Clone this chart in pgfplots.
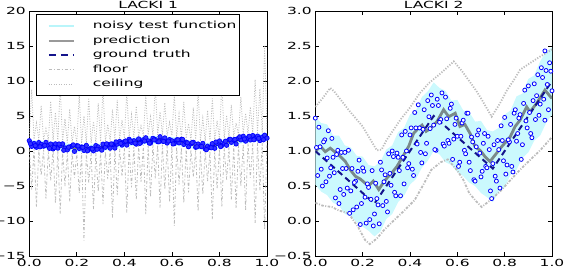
\documentclass[border=0pt]{standalone}
\usepackage{fontspec}
\setmainfont{DejaVu Sans}[FakeStretch=1.58]
\usepackage{pgfplots}
\pgfplotsset{compat=1.18}
\usepackage{pgfplotstable}
\definecolor{cyanband}{RGB}{203,249,253}
\definecolor{cyanline}{RGB}{185,245,250}
\definecolor{predgray}{RGB}{122,138,138}
\definecolor{truthblue}{RGB}{20,20,140}
\definecolor{fcgray}{RGB}{188,188,188}

\pgfplotstableread{
x c f
0.00 1.7 0.3
0.01 8.8 -5.5
0.02 1.7 0.3
0.03 4.0 -8.0
0.04 1.6 0.2
0.05 6.5 -3.5
0.06 1.6 0.2
0.07 3.2 -6.8
0.08 1.5 0.1
0.09 7.1 -4.2
0.10 1.5 0.1
0.11 5.5 -7.5
0.12 1.4 0.0
0.13 9.2 -9.0
0.14 1.3 -0.1
0.15 4.6 -5.0
0.16 1.2 -0.2
0.17 6.0 -7.2
0.18 1.2 -0.2
0.19 3.5 -3.8
0.20 1.1 -0.3
0.21 8.1 -6.0
0.22 1.1 -0.3
0.23 5.0 -12.8
0.24 1.1 -0.3
0.25 7.6 -4.5
0.26 1.1 -0.3
0.27 4.2 -8.3
0.28 1.1 -0.3
0.29 6.8 -5.8
0.30 1.2 -0.2
0.31 9.0 -7.6
0.32 1.3 -0.1
0.33 3.8 -4.0
0.34 1.4 0.0
0.35 5.9 -9.5
0.36 1.6 0.2
0.37 7.3 -6.3
0.38 1.7 0.3
0.39 4.4 -3.6
0.40 1.8 0.4
0.41 8.5 -8.8
0.42 1.9 0.5
0.43 5.2 -5.2
0.44 2.0 0.6
0.45 6.4 -7.0
0.46 2.1 0.7
0.47 3.6 -4.4
0.48 2.2 0.8
0.49 7.9 -9.0
0.50 2.3 0.9
0.51 4.9 -6.6
0.52 2.3 0.9
0.53 9.4 -3.9
0.54 2.3 0.9
0.55 5.6 -8.1
0.56 2.3 0.9
0.57 6.9 -5.5
0.58 2.2 0.8
0.59 4.1 -7.3
0.60 2.2 0.8
0.61 8.0 -10.7
0.62 2.0 0.6
0.63 5.3 -4.8
0.64 1.9 0.5
0.65 7.0 -7.4
0.66 1.8 0.4
0.67 3.9 -5.9
0.68 1.6 0.2
0.69 6.2 -3.7
0.70 1.5 0.1
0.71 8.7 -8.6
0.72 1.4 0.0
0.73 4.7 -6.2
0.74 1.4 0.0
0.75 5.8 -4.3
0.76 1.4 0.0
0.77 7.5 -9.8
0.78 1.5 0.1
0.79 4.3 -5.4
0.80 1.7 0.3
0.81 9.8 -7.9
0.82 1.8 0.4
0.83 5.1 -4.1
0.84 2.0 0.6
0.85 6.6 -6.9
0.86 2.1 0.7
0.87 4.0 -8.2
0.88 2.3 0.9
0.89 7.7 -5.0
0.90 2.4 1.0
0.91 5.4 -8.4
0.92 2.5 1.1
0.93 6.3 -3.8
0.94 2.5 1.1
0.95 10.2 -10.3
0.96 2.6 1.2
0.97 8.9 -5.6
0.98 2.6 1.2
0.99 15.0 -11.2
1.00 2.7 1.3
}\leftfc

\pgfplotsset{
  lackiaxis/.style={
    scale only axis, height=245pt, xmin=0, xmax=1,
    xtick={0,0.2,0.4,0.6,0.8,1}, xticklabels={0.0,0.2,0.4,0.6,0.8,1.0},
    tick align=inside, xtick pos=both, ytick pos=both,
    major tick length=4pt,
    every tick/.style={black, line width=0.7pt},
    axis line style={black, line width=1pt},
    tick label style={font=\fontsize{9.8}{11}\selectfont},
    every axis title shift=0pt,
    title style={font=\fontsize{9.8}{11}\selectfont, at={(0.5,1)}, anchor=south, inner sep=0pt, yshift=2pt},
  },
  pmark/.style={only marks, mark=*, mark size=2.2pt, mark options={draw=blue, fill=blue!80, line width=0.7pt}},
  qmark/.style={only marks, mark=*, mark size=2.0pt, mark options={draw=blue, fill=white, line width=0.8pt}},
}

\begin{document}
\begin{tikzpicture}
% ---------------- LACKI 1 ----------------
\begin{axis}[lackiaxis, at={(29.3pt,10pt)}, anchor=south west, width=237.7pt,
  title={LACKI 1}, ymin=-15, ymax=20,
  ytick={-15,-10,-5,0,5,10,15,20}, yticklabels={−15,−10,−5,0,5,10,15,20},
  legend style={at={(0.03,0.986)}, anchor=north west, draw=black, line width=0.8pt, fill=white,
    font=\fontsize{9.8}{11}\selectfont, inner xsep=2pt, inner ysep=5.5pt, row sep=2.8pt,
    nodes={inner sep=1pt, text height=7.3pt, text depth=2.4pt},
    /tikz/every odd column/.append style={column sep=17pt}},
  legend cell align=left,
  legend image code/.code={\path (-9pt,0pt); \draw[#1] (0pt,0pt) -- (25pt,0pt);},
]
\addlegendimage{cyanline, line width=1.6pt}
\addlegendimage{gray!80, line width=2pt}
\addlegendimage{truthblue, line width=1.8pt, dash pattern=on 7pt off 5pt}
\addlegendimage{fcgray, line width=0.8pt, dash pattern=on 3pt off 2pt on 1pt off 2pt}
\addlegendimage{fcgray, line width=0.8pt, dash pattern=on 1pt off 1.5pt}
\legend{noisy test function, prediction, ground truth, floor, ceiling}

\addplot[fcgray, line width=0.8pt, dash pattern=on 3pt off 2pt on 1pt off 2pt, forget plot] table[x=x, y=f] {\leftfc};
\addplot[fcgray, line width=0.8pt, dash pattern=on 1pt off 1.5pt, forget plot] table[x=x, y=c] {\leftfc};
\addplot[fill=cyanband, draw=none, forget plot] coordinates {
(0,1.55) (0.05,1.45) (0.1,1.30) (0.15,1.10) (0.2,0.95) (0.25,0.90) (0.3,1.05) (0.35,1.35) (0.4,1.65) (0.45,1.95) (0.5,2.13) (0.55,2.17) (0.6,2.00) (0.65,1.70) (0.7,1.35) (0.75,1.17) (0.8,1.50) (0.85,1.90) (0.9,2.23) (0.95,2.40) (1,2.53)
(1,1.43) (0.95,1.30) (0.9,1.13) (0.85,0.80) (0.8,0.40) (0.75,0.07) (0.7,0.25) (0.65,0.60) (0.6,0.90) (0.55,1.07) (0.5,1.03) (0.45,0.85) (0.4,0.55) (0.35,0.25) (0.3,-0.05) (0.25,-0.20) (0.2,-0.15) (0.15,0.00) (0.1,0.20) (0.05,0.35) (0,0.45)
} -- cycle;
\addplot[predgray, line width=2.2pt, forget plot] coordinates {
(0,1.0) (0.05,0.95) (0.1,0.7) (0.15,0.6) (0.2,0.35) (0.25,0.45) (0.3,0.5) (0.35,0.9) (0.4,1.1) (0.45,1.45) (0.5,1.55) (0.55,1.7) (0.6,1.4) (0.65,1.2) (0.7,0.8) (0.75,0.65) (0.8,0.9) (0.85,1.4) (0.9,1.65) (0.95,1.9) (1,1.95)};
\addplot[truthblue, line width=1.8pt, dash pattern=on 7pt off 5pt, forget plot] coordinates {
(0,1.0) (0.05,0.9) (0.1,0.75) (0.15,0.55) (0.2,0.4) (0.25,0.35) (0.3,0.5) (0.35,0.8) (0.4,1.1) (0.45,1.4) (0.5,1.58) (0.55,1.62) (0.6,1.45) (0.65,1.15) (0.7,0.8) (0.75,0.62) (0.8,0.95) (0.85,1.35) (0.9,1.68) (0.95,1.85) (1,1.98)};
\addplot[pmark, forget plot] coordinates {
(0.00,1.47) (0.01,0.66) (0.02,1.08) (0.03,0.53) (0.04,1.20) (0.05,0.95) (0.06,0.69) (0.07,1.23) (0.08,0.74) (0.09,1.00)
(0.10,0.30) (0.11,1.02) (0.12,0.41) (0.13,0.77) (0.14,1.02) (0.15,0.43) (0.16,0.16) (0.17,0.57) (0.18,0.71) (0.19,-0.05)
(0.20,0.76) (0.21,0.36) (0.22,0.57) (0.23,0.08) (0.24,0.80) (0.25,0.20) (0.26,0.40) (0.27,0.02) (0.28,0.77) (0.29,0.58)
(0.30,0.28) (0.31,0.97) (0.32,0.53) (0.33,0.95) (0.34,0.40) (0.35,0.96) (0.36,0.42) (0.37,0.98) (0.38,1.36) (0.39,0.85)
(0.40,1.33) (0.41,0.85) (0.42,1.67) (0.43,1.23) (0.44,1.47) (0.45,0.98) (0.46,1.73) (0.47,1.23) (0.48,1.60) (0.49,1.89)
(0.50,1.45) (0.51,1.13) (0.52,1.81) (0.53,1.64) (0.54,1.33) (0.55,2.04) (0.56,1.42) (0.57,1.87) (0.58,1.14) (0.59,1.63)
(0.60,1.46) (0.61,1.06) (0.62,1.59) (0.63,1.17) (0.64,1.67) (0.65,0.94) (0.66,1.26) (0.67,0.61) (0.68,1.04) (0.69,1.24)
(0.70,0.53) (0.71,1.00) (0.72,0.67) (0.73,1.09) (0.74,0.31) (0.75,0.69) (0.76,0.53) (0.77,1.05) (0.78,0.39) (0.79,1.08)
(0.80,1.43) (0.81,0.78) (0.82,1.14) (0.83,0.82) (0.84,1.61) (0.85,1.24) (0.86,1.59) (0.87,1.01) (0.88,1.83) (0.89,1.59)
(0.90,2.11) (0.91,1.41) (0.92,1.87) (0.93,1.58) (0.94,2.21) (0.95,1.77) (0.96,2.13) (0.97,1.49) (0.98,1.98) (0.99,2.26) (1.00,1.84)
(0.005,1.05) (0.025,0.76) (0.045,0.60) (0.065,0.81) (0.085,0.38) (0.105,0.49) (0.125,1.00) (0.145,0.11) (0.165,0.55) (0.185,0.87)
(0.205,0.72) (0.225,0.53) (0.245,0.03) (0.265,0.30) (0.285,0.25) (0.305,0.13) (0.325,1.02) (0.345,1.01) (0.365,1.29) (0.385,1.08)
(0.405,1.43) (0.425,1.45) (0.445,1.12) (0.465,1.09) (0.485,1.42) (0.505,1.12) (0.525,1.58) (0.545,1.32) (0.565,1.37) (0.585,1.42)
(0.605,1.01) (0.625,1.61) (0.645,1.65) (0.665,1.17) (0.685,1.19) (0.705,0.60) (0.725,0.64) (0.745,0.19) (0.765,0.46) (0.785,1.28)
(0.805,0.63) (0.825,1.40) (0.845,1.67) (0.865,1.64) (0.885,2.02) (0.905,1.72) (0.925,2.10) (0.945,1.61) (0.965,1.80) (0.985,1.60)
};
\end{axis}

% ---------------- LACKI 2 ----------------
\begin{axis}[lackiaxis, at={(315.3pt,10pt)}, anchor=south west, width=236.7pt,
  title={LACKI 2}, ymin=-0.5, ymax=3,
  ytick={-0.5,0,0.5,1,1.5,2,2.5,3}, yticklabels={−0.5,0.0,0.5,1.0,1.5,2.0,2.5,3.0},
]
\addplot[fill=cyanband, draw=none] coordinates {
(0,1.48) (0.025,1.40) (0.05,1.38) (0.075,1.22) (0.1,1.22) (0.125,1.08) (0.15,1.05) (0.175,0.93) (0.2,0.92) (0.225,0.80) (0.25,0.78) (0.275,0.85) (0.3,1.02) (0.325,1.08) (0.35,1.27) (0.375,1.33) (0.4,1.52) (0.425,1.58) (0.45,1.77) (0.475,1.85) (0.5,1.98) (0.525,1.90) (0.55,1.86) (0.575,1.72) (0.6,1.73) (0.625,1.58) (0.65,1.56) (0.675,1.42) (0.7,1.43) (0.725,1.30) (0.75,1.28) (0.775,1.33) (0.8,1.52) (0.825,1.58) (0.85,1.78) (0.875,1.82) (0.9,2.03) (0.925,2.08) (0.95,2.28) (0.975,2.42) (1,2.48)
(1,1.52) (0.975,1.40) (0.95,1.22) (0.925,1.15) (0.9,0.98) (0.875,0.90) (0.85,0.73) (0.825,0.66) (0.8,0.48) (0.775,0.42) (0.75,0.27) (0.725,0.34) (0.7,0.40) (0.675,0.50) (0.65,0.55) (0.625,0.64) (0.6,0.70) (0.575,0.80) (0.55,0.84) (0.525,0.95) (0.5,1.00) (0.475,0.86) (0.45,0.76) (0.425,0.60) (0.4,0.52) (0.375,0.36) (0.35,0.27) (0.325,0.10) (0.3,0.03) (0.275,-0.15) (0.25,-0.22) (0.225,-0.14) (0.2,-0.08) (0.175,-0.02) (0.15,0.07) (0.125,0.10) (0.1,0.22) (0.075,0.26) (0.05,0.37) (0.025,0.42) (0,0.52)
} -- cycle;
\addplot[fcgray, line width=1.8pt, dash pattern=on 2.5pt off 1.5pt on 1pt off 1.5pt] coordinates {
(0,0.26) (0.03,0.22) (0.07,0.2) (0.1,0.15) (0.14,0.11) (0.18,-0.08) (0.21,-0.27) (0.23,-0.33) (0.26,-0.25) (0.29,-0.13) (0.32,-0.03) (0.37,0.13) (0.42,0.3) (0.45,0.48) (0.49,0.73) (0.53,0.84) (0.56,0.88) (0.6,0.72) (0.625,0.59) (0.65,0.4) (0.68,0.28) (0.703,0.2) (0.74,0.3) (0.78,0.42) (0.837,0.63) (0.87,0.75) (0.907,0.87) (0.95,1.01) (1.0,1.2)};
\addplot[fcgray, line width=1.8pt, dash pattern=on 1.2pt off 1.5pt] coordinates {
(0,1.63) (0.03,1.75) (0.063,1.9) (0.08,1.85) (0.11,1.72) (0.14,1.59) (0.17,1.47) (0.2,1.35) (0.23,1.18) (0.26,1.01) (0.28,1.02) (0.3,1.15) (0.33,1.3) (0.36,1.45) (0.4,1.62) (0.44,1.82) (0.48,1.97) (0.53,2.11) (0.585,2.28) (0.62,2.14) (0.648,2.01) (0.68,1.86) (0.704,1.73) (0.745,1.49) (0.78,1.68) (0.81,1.87) (0.84,2.02) (0.865,2.16) (0.9,2.24) (0.95,2.35) (1.0,2.45)};
\addplot[qmark] coordinates {
(0.00,1.47) (0.01,0.65) (0.02,1.06) (0.03,0.50) (0.04,1.16) (0.05,0.90) (0.06,0.64) (0.07,1.18) (0.08,0.69) (0.09,0.95)
(0.10,0.25) (0.11,0.98) (0.12,0.38) (0.13,0.75) (0.14,1.01) (0.15,0.43) (0.16,0.16) (0.17,0.57) (0.18,0.71) (0.19,-0.05)
(0.20,0.76) (0.21,0.34) (0.22,0.53) (0.23,0.02) (0.24,0.72) (0.25,0.10) (0.26,0.32) (0.27,-0.04) (0.28,0.73) (0.29,0.56)
(0.30,0.28) (0.31,0.96) (0.32,0.51) (0.33,0.92) (0.34,0.36) (0.35,0.91) (0.36,0.36) (0.37,0.91) (0.38,1.28) (0.39,0.76)
(0.40,1.23) (0.41,0.74) (0.42,1.55) (0.43,1.10) (0.44,1.33) (0.45,0.83) (0.46,1.59) (0.47,1.11) (0.48,1.49) (0.49,1.80)
(0.50,1.37) (0.51,1.01) (0.52,1.65) (0.53,1.45) (0.54,1.10) (0.55,1.77) (0.56,1.15) (0.57,1.61) (0.58,0.88) (0.59,1.38)
(0.60,1.21) (0.61,0.84) (0.62,1.40) (0.63,1.01) (0.64,1.54) (0.65,0.84) (0.66,1.20) (0.67,0.59) (0.68,1.06) (0.69,1.30)
(0.70,0.63) (0.71,1.11) (0.72,0.78) (0.73,1.21) (0.74,0.43) (0.75,0.82) (0.76,0.64) (0.77,1.15) (0.78,0.47) (0.79,1.15)
(0.80,1.48) (0.81,0.80) (0.82,1.13) (0.83,0.78) (0.84,1.54) (0.85,1.14) (0.86,1.47) (0.87,0.88) (0.88,1.68) (0.89,1.43)
(0.90,1.93) (0.91,1.25) (0.92,1.72) (0.93,1.45) (0.94,2.09) (0.95,1.67) (0.96,2.05) (0.97,1.44) (0.98,1.95) (0.99,2.26) (1.00,1.86)
(0.005,1.05) (0.015,1.34) (0.025,0.74) (0.035,1.13) (0.045,0.56) (0.055,1.29) (0.065,0.76) (0.075,0.91) (0.085,0.33) (0.095,1.01)
(0.105,0.45) (0.115,0.75) (0.125,0.98) (0.135,0.47) (0.145,0.11) (0.155,0.75) (0.165,0.55) (0.175,0.20) (0.185,0.87) (0.195,0.25)
(0.205,0.71) (0.215,-0.03) (0.225,0.48) (0.235,0.31) (0.245,-0.07) (0.255,0.54) (0.265,0.23) (0.275,0.84) (0.285,0.22) (0.295,0.66)
(0.305,0.13) (0.315,0.68) (0.325,1.00) (0.335,0.41) (0.345,0.97) (0.355,0.72) (0.365,1.23) (0.375,0.53) (0.385,1.00) (0.395,0.82)
(0.405,1.33) (0.415,0.65) (0.425,1.33) (0.435,1.66) (0.445,0.98) (0.455,1.31) (0.465,0.96) (0.475,1.72) (0.485,1.32) (0.495,1.65)
(0.505,1.02) (0.515,1.74) (0.525,1.41) (0.535,1.83) (0.545,1.07) (0.555,1.46) (0.565,1.11) (0.575,1.67) (0.585,1.17) (0.595,1.47)
(0.605,0.78) (0.615,1.21) (0.625,1.44) (0.635,0.96) (0.645,1.54) (0.655,0.72) (0.665,1.13) (0.675,0.57) (0.685,1.23) (0.695,0.97)
(0.705,0.71) (0.715,1.25) (0.725,0.76) (0.735,1.02) (0.745,0.32) (0.755,1.09) (0.765,0.57) (0.775,1.02) (0.785,1.36) (0.795,0.86)
(0.805,0.67) (0.815,1.16) (0.825,1.38) (0.835,0.70) (0.845,1.59) (0.855,1.25) (0.865,1.52) (0.875,1.09) (0.885,1.87) (0.895,1.33)
(0.905,1.55) (0.915,1.19) (0.925,1.96) (0.935,1.79) (0.945,1.51) (0.955,2.19) (0.965,1.74) (0.975,2.15) (0.985,1.59) (0.995,2.14)
(0.97,2.43)
};
\addplot[predgray, line width=2.8pt] coordinates {
(0.000,0.99) (0.021,1.07) (0.042,0.99) (0.063,1.04) (0.085,0.98) (0.106,0.92) (0.127,0.85) (0.148,0.73) (0.169,0.64) (0.19,0.60)
(0.211,0.54) (0.225,0.50) (0.245,0.57) (0.268,0.45) (0.282,0.52) (0.304,0.62) (0.324,0.69) (0.345,0.78) (0.366,0.90) (0.395,1.07)
(0.415,1.25) (0.434,1.32) (0.451,1.37) (0.468,1.28) (0.486,1.32) (0.514,1.42) (0.542,1.59) (0.564,1.49) (0.591,1.54) (0.611,1.35)
(0.632,1.38) (0.654,1.25) (0.675,1.06) (0.696,1.01) (0.717,0.92) (0.738,0.85) (0.759,0.94) (0.787,1.06) (0.823,1.20) (0.844,1.35)
(0.865,1.44) (0.893,1.63) (0.907,1.56) (0.935,1.68) (0.97,1.87) (1.0,1.75)};
\addplot[truthblue, line width=2pt, dash pattern=on 6pt off 4pt] coordinates {
(0,1) (0.25,0.25) (0.5,1.5) (0.75,0.75) (1,2)};
\end{axis}
\pgfresetboundingbox
\path[use as bounding box] (0,0) rectangle (564pt,266pt);
\end{tikzpicture}
\end{document}
